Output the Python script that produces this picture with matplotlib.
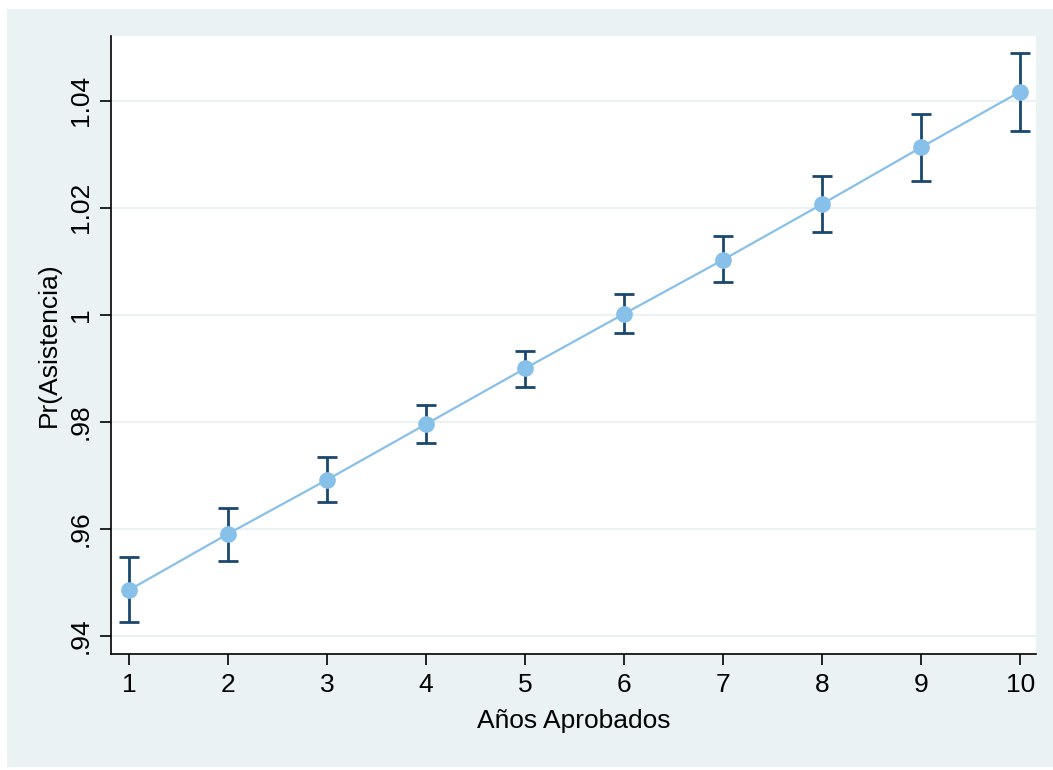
import numpy as np
import matplotlib.pyplot as plt
from matplotlib.patches import Rectangle

plt.rcParams['font.family'] = ['Liberation Sans', 'DejaVu Sans']

anios = [1, 2, 3, 4, 5, 6, 7, 8, 9, 10]
prob = [0.9486, 0.9591, 0.9692, 0.9796, 0.9900, 1.0002, 1.0103, 1.0207, 1.0313, 1.0417]
ci_low = [0.9426, 0.9540, 0.9651, 0.9761, 0.9866, 0.9967, 1.0062, 1.0155, 1.0251, 1.0344]
ci_high = [0.9547, 0.9639, 0.9735, 0.9832, 0.9933, 1.0039, 1.0148, 1.0260, 1.0376, 1.0489]
yticks = [0.94, 0.96, 0.98, 1.00, 1.02, 1.04]
ytick_labels = ['.94', '.96', '.98', '1', '1.02', '1.04']

bg = '#EAF2F3'
line_col = '#87C0E8'
bar_col = '#1A476F'

W, H = 1053, 770
fig = plt.figure(figsize=(W / 100, H / 100), dpi=100)
fig.patch.set_facecolor('white')
fig.patches.append(Rectangle((7 / W, 3 / H), 1 - 7 / W, 758 / H, transform=fig.transFigure,
                             facecolor=bg, edgecolor='none', zorder=-1))

ax = fig.add_axes([111 / W, 1 - 654 / H, (1036 - 111) / W, (654 - 36) / H])
ax.set_zorder(1)
ax.set_facecolor('white')

prob = np.array(prob)
yerr = [prob - np.array(ci_low), np.array(ci_high) - prob]
ax.errorbar(anios, prob, yerr=yerr, fmt='none', ecolor=bar_col, elinewidth=2,
            capsize=7.5, capthick=2, zorder=3)
ax.plot(anios, prob, color=line_col, lw=1.6, marker='o', markersize=11, zorder=4)

ax.set_xlim(0.818, 10.16)
ax.set_ylim(0.93665, 1.0521)
ax.set_xticks(anios)
ax.set_yticks(yticks)
ax.set_yticklabels(ytick_labels, rotation=90, va='center')
ax.grid(axis='y', color=bg, lw=1.5)
ax.set_axisbelow(True)

for s in ['top', 'right']:
    ax.spines[s].set_visible(False)
for s in ['left', 'bottom']:
    ax.spines[s].set_linewidth(1.2)
ax.tick_params(axis='both', labelsize=19, width=1.2, length=8, colors='black')
ax.tick_params(axis='x', pad=6)
ax.tick_params(axis='y', pad=5)

ax.set_xlabel('Años Aprobados', fontsize=19, labelpad=8)
ax.set_ylabel('Pr(Asistencia)', fontsize=19, labelpad=6)

fig.savefig('out.png', dpi=100)
